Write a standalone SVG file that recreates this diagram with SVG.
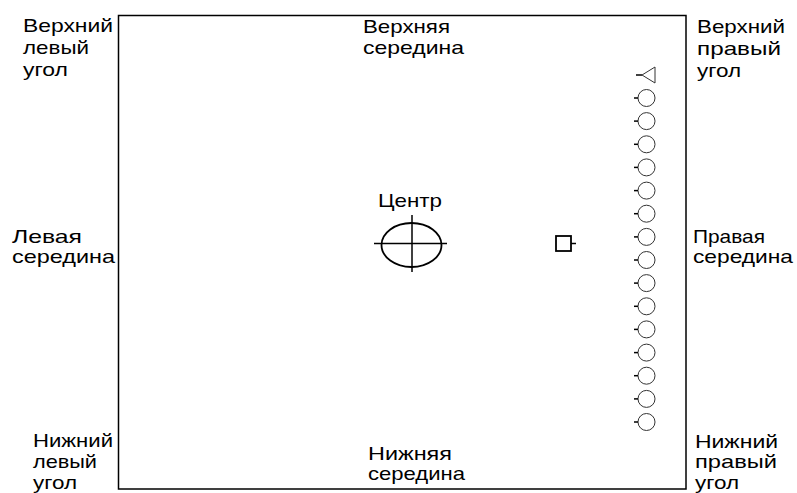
<svg xmlns="http://www.w3.org/2000/svg" width="797" height="493" viewBox="0 0 797 493">
<style>
text{font-family:"Liberation Sans",Arial,sans-serif;font-size:19px;fill:#000}
.frame{fill:none;stroke:#000;stroke-width:1.5}
.port{fill:#fff;stroke:#333;stroke-width:1}
.stub{stroke:#000;stroke-width:1.5}
.thick{fill:none;stroke:#000;stroke-width:1.8}
</style>
<rect width="797" height="493" fill="#fff"/>
<g id="frame"><rect class="frame" x="118.5" y="15.5" width="567.5" height="473.5"/></g>
<g id="label-top-left">
<text x="23" y="32" textLength="90" lengthAdjust="spacingAndGlyphs">Верхний</text>
<text x="23" y="54" textLength="66" lengthAdjust="spacingAndGlyphs">левый</text>
<text x="23" y="76" textLength="45" lengthAdjust="spacingAndGlyphs">угол</text>
</g>
<g id="label-top-middle">
<text x="363" y="33" textLength="87" lengthAdjust="spacingAndGlyphs">Верхняя</text>
<text x="363" y="54" textLength="101" lengthAdjust="spacingAndGlyphs">середина</text>
</g>
<g id="label-top-right">
<text x="697" y="33" textLength="88" lengthAdjust="spacingAndGlyphs">Верхний</text>
<text x="697" y="55" textLength="84" lengthAdjust="spacingAndGlyphs">правый</text>
<text x="697" y="77" textLength="44" lengthAdjust="spacingAndGlyphs">угол</text>
</g>
<g id="label-left-middle">
<text x="12" y="243" textLength="70" lengthAdjust="spacingAndGlyphs">Левая</text>
<text x="12" y="263" textLength="103" lengthAdjust="spacingAndGlyphs">середина</text>
</g>
<g id="label-right-middle">
<text x="693" y="243" textLength="72" lengthAdjust="spacingAndGlyphs">Правая</text>
<text x="693" y="263" textLength="100" lengthAdjust="spacingAndGlyphs">середина</text>
</g>
<g id="label-bottom-left">
<text x="33" y="447" textLength="80" lengthAdjust="spacingAndGlyphs">Нижний</text>
<text x="33" y="468" textLength="64" lengthAdjust="spacingAndGlyphs">левый</text>
<text x="33" y="489" textLength="44" lengthAdjust="spacingAndGlyphs">угол</text>
</g>
<g id="label-bottom-middle">
<text x="368" y="460" textLength="84" lengthAdjust="spacingAndGlyphs">Нижняя</text>
<text x="368" y="480" textLength="97" lengthAdjust="spacingAndGlyphs">середина</text>
</g>
<g id="label-bottom-right">
<text x="695" y="448" textLength="83" lengthAdjust="spacingAndGlyphs">Нижний</text>
<text x="695" y="468" textLength="82" lengthAdjust="spacingAndGlyphs">правый</text>
<text x="695" y="489" textLength="44" lengthAdjust="spacingAndGlyphs">угол</text>
</g>
<g id="center">
<text x="378" y="207" textLength="64" lengthAdjust="spacingAndGlyphs">Центр</text>
<ellipse class="thick" cx="411.5" cy="245" rx="30" ry="22"/>
<line class="stub" x1="374" y1="243.5" x2="447" y2="243.5"/>
<line class="stub" x1="412" y1="215" x2="412" y2="272"/>
</g>
<g id="box">
<rect class="thick" x="556" y="236" width="15" height="15"/>
<line class="stub" x1="571" y1="243.5" x2="576" y2="243.5"/>
</g>
<g id="ports">
<g id="port-triangle">
<polygon class="port" points="642,75 655,67 655,83"/>
<line class="stub" x1="636" y1="75" x2="642" y2="75"/>
</g>
<g id="port-circles">
<circle class="port" cx="646.5" cy="98" r="8.5"/>
<circle class="port" cx="646.5" cy="121.1" r="8.5"/>
<circle class="port" cx="646.5" cy="144.3" r="8.5"/>
<circle class="port" cx="646.5" cy="167.4" r="8.5"/>
<circle class="port" cx="646.5" cy="190.6" r="8.5"/>
<circle class="port" cx="646.5" cy="213.7" r="8.5"/>
<circle class="port" cx="646.5" cy="236.9" r="8.5"/>
<circle class="port" cx="646.5" cy="260" r="8.5"/>
<circle class="port" cx="646.5" cy="283.1" r="8.5"/>
<circle class="port" cx="646.5" cy="306.3" r="8.5"/>
<circle class="port" cx="646.5" cy="329.4" r="8.5"/>
<circle class="port" cx="646.5" cy="352.6" r="8.5"/>
<circle class="port" cx="646.5" cy="375.7" r="8.5"/>
<circle class="port" cx="646.5" cy="398.9" r="8.5"/>
<circle class="port" cx="646.5" cy="422" r="8.5"/>
<g class="stub">
<line x1="634" y1="98" x2="638" y2="98"/>
<line x1="634" y1="121.1" x2="638" y2="121.1"/>
<line x1="634" y1="144.3" x2="638" y2="144.3"/>
<line x1="634" y1="167.4" x2="638" y2="167.4"/>
<line x1="634" y1="190.6" x2="638" y2="190.6"/>
<line x1="634" y1="213.7" x2="638" y2="213.7"/>
<line x1="634" y1="236.9" x2="638" y2="236.9"/>
<line x1="634" y1="260" x2="638" y2="260"/>
<line x1="634" y1="283.1" x2="638" y2="283.1"/>
<line x1="634" y1="306.3" x2="638" y2="306.3"/>
<line x1="634" y1="329.4" x2="638" y2="329.4"/>
<line x1="634" y1="352.6" x2="638" y2="352.6"/>
<line x1="634" y1="375.7" x2="638" y2="375.7"/>
<line x1="634" y1="398.9" x2="638" y2="398.9"/>
<line x1="634" y1="422" x2="638" y2="422"/>
</g>
</g>
</g>
<g id="connectors"></g>
</svg>
